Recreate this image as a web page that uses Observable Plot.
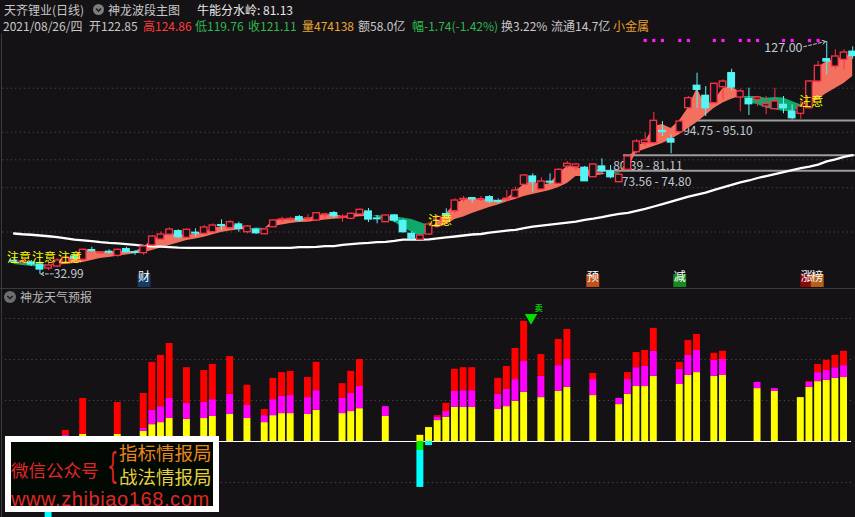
<!DOCTYPE html>
<html><head><meta charset="utf-8">
<script src="https://cdn.jsdelivr.net/npm/d3@7"></script>
<script src="https://cdn.jsdelivr.net/npm/@observablehq/plot@0.6"></script>
<style>
html,body{margin:0;padding:0;}
body{background:#141214;width:855px;height:517px;overflow:hidden;position:relative;font-family:"Noto Sans CJK SC","Noto Sans",sans-serif;}
.t{position:absolute;font-size:12px;line-height:16px;white-space:nowrap;}
#topChart{position:absolute;left:0;top:34px;}
#botChart{position:absolute;left:0;top:289px;}
.sep{position:absolute;background:#3a3a3e;}
.icon{position:absolute;}
#wm{position:absolute;left:5px;top:436px;width:202px;height:64px;border:6px solid #fff;background:#020802;}
#wm div{position:absolute;white-space:nowrap;}
</style></head><body>
<div class="sep" style="left:0;top:288px;width:855px;height:1px;"></div>
<div class="sep" style="left:1px;top:34px;width:1px;height:483px;"></div>

<div class="t" style="left:4px;top:2px;color:#c8c8c8">天齐锂业(日线)</div>
<svg class="icon" style="left:93px;top:4px" width="11" height="11"><circle cx="5.5" cy="5.5" r="5.5" fill="#7d7d7d"/><path d="M3 4.5 L5.5 7 L8 4.5" stroke="#202020" stroke-width="1.6" fill="none"/></svg>
<div class="t" style="left:108px;top:2px;color:#c8c8c8">神龙波段主图</div>
<div class="t" style="left:197px;top:2px;color:#e8e8e8">牛能分水岭: 81.13</div>

<div class="t" style="left:3px;top:18px;color:#c8c8c8">2021/08/26/四</div>
<div class="t" style="left:89px;top:18px;color:#c8c8c8">开122.85</div>
<div class="t" style="left:143px;top:18px;color:#ff3a3a">高124.86</div>
<div class="t" style="left:195px;top:18px;color:#2fb84f">低119.76</div>
<div class="t" style="left:248px;top:18px;color:#2fb84f">收121.11</div>
<div class="t" style="left:302px;top:18px;color:#e8a838">量474138</div>
<div class="t" style="left:358px;top:18px;color:#c8c8c8">额58.0亿</div>
<div class="t" style="left:412px;top:18px;color:#2fb84f">幅-1.74(-1.42%)</div>
<div class="t" style="left:501px;top:18px;color:#c8c8c8">换3.22%</div>
<div class="t" style="left:551px;top:18px;color:#c8c8c8">流通14.7亿</div>
<div class="t" style="left:613px;top:18px;color:#e8a030">小金属</div>

<div id="topChart"></div>
<div id="botChart"></div>

<svg class="icon" style="left:4px;top:291px" width="12" height="12"><circle cx="6" cy="6" r="6" fill="#6e6e6e"/><path d="M3.3 5 L6 7.6 L8.7 5" stroke="#202020" stroke-width="1.6" fill="none"/></svg>
<div class="t" style="left:20px;top:289px;color:#b8b8b8">神龙天气预报</div>

<div id="wm">
  <div style="left:0px;top:18px;font-size:17.5px;line-height:19px;color:#e02626;">微信公众号</div>
  <div style="left:96px;top:4px;font-size:24px;line-height:28px;color:#e02626;font-family:'DejaVu Sans';transform:scale(0.75,1.45);transform-origin:left top;">{</div>
  <div style="left:108px;top:0px;font-size:18.5px;line-height:20px;color:#e8861e;">指标情报局</div>
  <div style="left:108px;top:25px;font-size:18.5px;line-height:19px;color:#e6d040;">战法情报局</div>
  <div style="left:0px;top:48px;font-size:20px;line-height:19px;color:#e02626;font-family:'Liberation Sans';letter-spacing:0.6px;">www.zhibiao168.com</div>
</div>

<script>
// ---------- price panel data ----------
const open = [38.41,37.80,37.80,37.0,35.38,36.19,37.80,40.22,38.89,42.76, 41.59,42.12,40.50,43.16,41.95,41.55,44.66,47.08,49.02,50.43, 47.76,49.78,49.38,50.03,52.86,51.64,53.14,50.03,51.0,49.22, 52.04,54.95,55.15,56.08,55.35,54.75,56.97,57.70,55.96,55.43, 57.17,58.38,55.56,54.06,56.77,54.47,49.38,46.96,49.10,54.75, 57.29,58.50,63.22,63.74,63.10,64.15,62.54,63.34,63.90,69.15, 72.50,67.26,70.37,69.56,76.54,76.26,76.02,72.22,76.54,74.52, 70.20,75.21,82.31,85.94,85.94,90.86,87.55,90.38,100.06,109.11, 105.07,102.08,108.54,114.19,104.38,103.70,103.45,100.75,99.66,101.43, 98.73,97.80,100.06,110.84,119.84,116.89,119.60,122.85];
const close = [38.21,38.21,37.0,34.98,36.59,38.61,39.82,39.42,42.92,42.52, 41.83,41.83,42.92,41.95,41.71,44.26,48.29,49.10,51.12,48.01, 51.0,49.50,51.93,52.73,52.61,54.06,51.40,52.33,49.62,51.12, 54.75,55.15,55.35,54.75,55.56,57.70,57.17,56.49,56.16,57.45, 59.06,55.15,55.27,56.77,54.75,50.03,47.36,48.69,53.14,56.16, 57.05,62.82,63.42,63.34,63.34,62.41,62.29,63.54,66.86,72.91, 70.20,70.49,70.08,75.21,77.63,77.35,70.61,77.35,74.64,72.22, 73.19,80.58,86.63,87.03,94.98,90.46,86.22,94.70,104.10,107.49, 100.06,109.91,110.84,108.42,106.81,101.68,104.38,101.68,102.77,100.06, 96.03,100.75,110.84,117.18,118.91,120.93,122.54,121.11];
const high = [39.42,39.02,38.61,37.80,37.40,39.42,40.63,41.03,43.24,43.97, 42.24,42.92,43.24,43.97,42.64,44.66,48.69,50.03,51.80,51.0, 51.32,51.40,52.73,53.34,55.03,54.75,54.06,52.73,51.52,51.40, 54.95,56.08,56.08,56.77,57.05,57.98,57.70,58.38,57.05,57.78, 59.39,59.59,56.77,56.97,57.17,55.15,50.30,48.89,53.94,56.77, 59.47,63.50,64.43,63.82,64.43,64.84,63.50,66.86,68.19,73.31, 73.59,71.98,73.59,75.61,78.56,77.88,76.54,77.75,79.65,76.94, 73.51,80.98,87.44,89.98,98.33,94.70,89.33,95.38,104.78,114.19, 108.82,110.23,111.53,115.80,107.73,108.14,104.78,104.78,108.14,104.78, 101.43,102.77,111.25,118.91,127.00,123.63,123.63,124.86];
const low = [37.40,37.0,36.19,32.99,34.57,35.79,37.40,38.61,38.41,41.95, 41.23,41.03,39.94,41.71,40.71,40.71,44.26,46.68,48.44,47.36, 47.48,48.01,48.97,49.90,50.71,51.32,50.03,49.38,49.10,48.97, 51.93,54.06,54.35,53.94,54.06,54.55,55.43,55.56,54.06,55.15, 56.97,53.94,53.42,53.94,53.94,49.70,46.96,46.80,48.69,54.35, 55.43,57.70,62.13,61.73,62.41,61.48,61.48,62.41,63.50,68.87, 66.18,67.06,69.15,69.28,75.61,74.93,70.49,72.10,73.83,71.58, 70.08,74.93,81.67,84.61,85.70,88.64,81.67,89.98,99.82,100.06, 96.71,101.84,103.45,107.09,98.62,97.12,100.75,97.40,99.42,97.80, 95.38,95.62,99.74,110.16,113.55,115.56,115.56,119.76];
// wave band: fast and slow line
const bandFast = [37.0,36.59,36.19,35.99,36.19,37.80,39.02,40.63,42.64,42.44, 42.04,42.04,42.04,42.24,42.24,43.97,46.96,48.29,49.38,49.10, 48.69,49.30,50.03,51.40,52.33,52.73,52.53,51.72,50.51,51.40, 54.75,55.15,55.27,55.56,55.43,56.77,57.05,57.37,56.36,56.77, 57.98,57.45,56.08,55.15,54.06,51.93,50.03,48.29,49.90,54.35, 57.57,61.20,63.22,63.42,63.22,63.22,62.82,63.42,66.45,69.28, 70.49,68.87,69.68,73.71,76.54,76.34,74.93,74.12,73.92,73.11, 73.51,78.96,84.60,86.22,92.70,93.50,91.90,95.10,100.30,108.00, 101.20,103.20,108.00,108.80,106.40,102.08,101.56,100.06,99.54,98.73, 98.73,100.06,104.78,116.49,118.91,119.60,120.93,121.62];
const bandSlow = [37.80,37.60,37.40,37.0,36.59,36.79,37.0,37.40,37.80,38.61, 39.42,39.82,40.34,40.83,41.31,41.71,42.64,43.65,44.66,45.67, 46.68,47.28,48.01,48.97,49.90,50.51,50.91,51.12,51.72,51.50, 52.33,52.93,53.54,53.94,54.06,54.55,54.95,55.23,55.43,55.84, 56.24,56.49,56.77,56.49,56.16,55.76,55.15,53.94,52.73,51.72, 53.01,55.15,56.16,57.57,58.78,59.99,61.0,62.21,63.22,64.43, 65.24,66.05,66.86,68.07,69.68,72.50,72.50,72.71,73.11,74.12, 74.0,75.73,82.19,83.40,84.60,85.80,87.40,89.45,91.88,94.30, 97.10,100.0,102.20,103.70,104.78,104.78,104.78,104.10,104.38,104.18, 102.77,101.44,101.56,103.58,105.99,108.02,110.03,112.86];
// white line (牛能分水岭)
const ma = [49.5,49.2,49.0,48.7,48.4,48.0,47.5,47.0,46.7,46.4, 46.0,45.7,45.5,45.2,44.9,44.5,44.3,44.2,44.0,43.8, 43.7,43.7,43.7,43.7,43.7,43.7,43.7,43.7,43.7,43.7, 43.7,43.7,43.7,44.0,44.0,44.1,44.4,44.4,44.9,45.2, 45.5,45.7,46.0,46.1,46.5,47.0,47.0,47.0,47.1,47.5, 47.9,48.3,48.7,49.1,49.3,49.9,50.3,50.7,51.0,51.7, 52.3,52.7,53.1,53.5,53.9,54.3,55.0,55.5,56.1,56.8, 57.4,57.8,58.6,59.4,60.4,61.4,62.4,63.4,64.4,65.2, 66.0,67.1,68.1,69.1,70.1,70.9,71.9,72.7,73.5,74.3, 75.1,75.9,76.5,77.3,78.6,79.4,80.4,81.13];
const priceGrid = [108.14, 90.38, 79.24, 67.95, 50.11];
// support levels
const levelPrice = [95.10, 81.11, 74.80];
const levelStart = [78, 70.5, 63.5];
const levelText = ["94.75 - 95.10", "80.39 - 81.11", "73.56 - 74.80"];
const levelTextX = [77.4, 69.3, 70.3];
const levelTextY = [90.66, 76.54, 70.08];
// 注意 labels
const attnX = [0.58, 3.47, 6.48, 49.3, 92.2];
const attnY = [39.5, 39.5, 39.5, 54.4, 102.4];
// top magenta dots
const dotIdx = [73, 74, 75, 77, 78, 81, 82, 84, 85, 86, 89, 90, 92, 93];
// badges
const badgeText = ["财", "预", "减", "涨", "榜"];
const badgeX = [15.04, 66.94, 77.0, 91.7, 92.9];
const badgeBg = ["#163a66", "#c2521a", "#158a1e", "#8a0a0a", "#b5601a"];
// extreme labels
const peakText = "127.00", peakIdx = 94, peakLabelX = 91.2, peakLabelY = 124.4;
const troughText = "32.99", troughIdx = 3, troughLabelX = 4.6, troughLabelY = 33.2;

// ---------- indicator panel data ----------
const barIdx = [6,8,12,15,16,17,18,20,22,23,25,27,29,30,31,32,34,35,38,39,40,43,47,48,49,50,51,52,53,56,57,58,59,61,63,64,67,70,71,72,73,74,77,78,79,81,82,86,88,91,92,93,94,95,96];
const barYellow = [1.0,1.7,1.7,2.5,4.1,4.6,5.6,5.4,5.6,6.1,6.6,5.6,4.6,6.3,6.8,6.8,6.6,7.6,6.8,7.3,8.0,6.1,1.5,3.4,5.1,5.9,8.3,8.3,8.3,7.8,8.5,9.8,12.0,10.7,12.2,13.2,11.2,9.0,11.5,13.4,13.4,15.9,13.9,16.1,16.8,15.9,16.1,12.9,12.2,10.7,13.2,14.6,14.9,15.4,15.6];
const barMagenta = [1.5,1.7,1.7,3.2,7.6,8.5,10.5,9.3,9.5,10.2,11.5,8.8,6.3,10.2,11.0,11.2,10.7,12.4,10.5,11.7,13.4,8.5,1.5,3.4,5.9,7.3,12.2,12.4,12.4,11.5,12.7,15.1,19.5,15.9,18.5,20.0,15.1,10.5,15.1,18.0,18.3,22.0,17.6,21.0,22.2,19.8,20.0,14.4,12.9,10.7,14.4,16.8,17.3,18.0,18.5];
const barRed = [2.7,10.5,9.5,11.7,19.3,21.0,23.9,18.0,17.3,18.8,20.7,13.7,7.8,15.4,16.8,17.1,15.6,19.3,14.1,17.1,20.0,8.5,1.5,3.4,6.3,9.3,17.6,18.0,18.0,15.4,18.3,22.7,29.3,21.2,24.9,27.3,16.6,10.5,16.8,21.7,22.2,27.6,19.3,24.6,26.1,21.5,22.0,14.4,12.9,10.7,14.6,18.8,19.8,21.0,22.0];
const negIdx = [4, 47, 48];
const negGreen = [0, -2.2, 0];
const negCyan = [-19, -11.2, -1.0];
const indGrid = [30, 20, 10, -10];
const sellIdx = 59.8, sellLevel = 30.2, sellText = "卖";

// ---------- styles ----------
const BG = "#141214", RED = "#ff3048", CYAN = "#55f5f5", SALMON = "#f3705e", GREEN = "#0ea86c";
const FONT = "Noto Sans CJK SC, Noto Sans, sans-serif";
const xScale = {domain: [-0.5, 97.5], range: [9.18, 856.5], axis: null};

// build tables
const N = open.length;
const candles = d3.range(N).map(i => {
  const up = close[i] >= open[i];
  let lo = Math.min(open[i], close[i]), hi = Math.max(open[i], close[i]);
  if (hi - lo < 0.3) { const m = (hi + lo) / 2; lo = m - 0.15; hi = m + 0.15; }
  return {i, h: high[i], l: low[i], lo, hi, up};
});
const bandRows = [];
let seg = 0;
for (let i = 0; i < N; i++) {
  const d = bandFast[i] - bandSlow[i];
  if (i > 0) {
    const d0 = bandFast[i-1] - bandSlow[i-1];
    if ((d0 >= 0) !== (d >= 0)) {
      const t = d0 / (d0 - d);
      const xc = i - 1 + t, yc = bandFast[i-1] + t * (bandFast[i] - bandFast[i-1]);
      bandRows.push({i: xc, a: yc, b: yc, seg, col: d0 >= 0 ? SALMON : GREEN});
      seg++;
      bandRows.push({i: xc, a: yc, b: yc, seg, col: d >= 0 ? SALMON : GREEN});
    }
  }
  bandRows.push({i, a: bandFast[i], b: bandSlow[i], seg, col: d >= 0 ? SALMON : GREEN});
}
const levels = levelPrice.map((p, k) => ({p, s: levelStart[k], t: levelText[k], tx: levelTextX[k], ty: levelTextY[k]}));
const attn = attnX.map((x, k) => ({x, y: attnY[k]}));
const badges = badgeText.map((t, k) => ({t, x: badgeX[k], bg: badgeBg[k]}));
const maRows = ma.map((v, i) => ({i, v}));

const topPlot = Plot.plot({
  width: 855, height: 254, marginTop: 0, marginBottom: 0, marginLeft: 2, marginRight: 0,
  x: xScale,
  y: {domain: [27.31, 129.81], range: [254, 0], axis: null},
  color: {type: "identity"},
  style: {background: "transparent", fontFamily: FONT, overflow: "hidden"},
  marks: [
    Plot.ruleY(priceGrid, {stroke: "#4c4c50", strokeDasharray: "1.2,3.2"}),
    Plot.ruleY(levels, {y: "p", x1: "s", x2: 97.6, stroke: "#9c9c9c", strokeWidth: 2}),
    Plot.text(levels, {x: "tx", y: "ty", text: "t", textAnchor: "start", fill: "#c2c8d2", fontSize: 12}),
    Plot.areaY(bandRows, {x: "i", y1: "b", y2: "a", z: "seg", fill: "col", curve: "linear"}),
    Plot.line(maRows, {x: "i", y: "v", stroke: "#ffffff", strokeWidth: 2.3, curve: "linear"}),
    Plot.ruleX(candles, {x: "i", y1: "l", y2: "h", stroke: d => d.up ? RED : CYAN, strokeWidth: 1}),
    Plot.rect(candles, {x1: d => d.i - 0.38, x2: d => d.i + 0.38, y1: "lo", y2: "hi", fill: d => d.up ? BG : CYAN, stroke: d => d.up ? RED : CYAN, strokeWidth: 1.3}),
    Plot.dot(dotIdx, {x: d => d, frameAnchor: "top", dy: 6, symbol: "square", r: 1.8, fill: "#ff1aff"}),
    Plot.text(attn, {x: "x", y: "y", text: () => "注意", fill: "#ffff00", fontSize: 12}),
    Plot.text([peakText], {x: peakLabelX, y: peakLabelY, text: d => d, textAnchor: "end", fill: "#c2c8d2", fontSize: 12.5}),
    Plot.arrow([0], {x1: peakLabelX + 0.15, y1: peakLabelY + 0.5, x2: peakIdx - 0.1, y2: high[peakIdx], stroke: "#c2c8d2", strokeWidth: 1, strokeDasharray: "3,2", headLength: 6}),
    Plot.text([troughText], {x: troughLabelX, y: troughLabelY, text: d => d, textAnchor: "start", fill: "#c2c8d2", fontSize: 12}),
    Plot.arrow([0], {x1: troughLabelX - 0.05, y1: troughLabelY, x2: troughIdx + 0.1, y2: troughLabelY, stroke: "#c2c8d2", strokeWidth: 1, strokeDasharray: "3,2", headLength: 5}),
    Plot.dot(badges, {x: "x", frameAnchor: "bottom", dy: -8, symbol: "square", r: 7.3, fill: "bg"}),
    Plot.text(badges, {x: "x", frameAnchor: "bottom", dy: -8, text: "t", fill: "#ffffff", fontSize: 12})
  ]
});
document.getElementById("topChart").appendChild(topPlot);

const bars = barIdx.map((i, k) => ({i, y: barYellow[k], m: barMagenta[k], r: barRed[k]}));
const negs = negIdx.map((i, k) => ({i, g: negGreen[k], c: negCyan[k]}));
const W = 0.4;
const botPlot = Plot.plot({
  width: 855, height: 228, marginTop: 0, marginBottom: 0, marginLeft: 5, marginRight: 4,
  x: xScale,
  y: {domain: [-18.54, 37.07], range: [228, 0], axis: null},
  color: {type: "identity"},
  style: {background: "transparent", fontFamily: FONT, overflow: "hidden"},
  marks: [
    Plot.ruleY(indGrid, {stroke: "#4c4c50", strokeDasharray: "1.2,3.2"}),
    Plot.ruleY([0], {stroke: "#ffffff", strokeWidth: 1.2}),
    Plot.rect(bars, {x1: d => d.i - W, x2: d => d.i + W, y1: 0, y2: "y", fill: "#ffff00"}),
    Plot.rect(bars.filter(d => d.m > d.y), {x1: d => d.i - W, x2: d => d.i + W, y1: "y", y2: "m", fill: "#ff00ff"}),
    Plot.rect(bars.filter(d => d.r > d.m), {x1: d => d.i - W, x2: d => d.i + W, y1: "m", y2: "r", fill: "#ff0000"}),
    Plot.rect(negs, {x1: d => d.i - W, x2: d => d.i + W, y1: "g", y2: "c", fill: "#00ffff"}),
    Plot.rect(negs.filter(d => d.g < 0), {x1: d => d.i - W, x2: d => d.i + W, y1: 0, y2: "g", fill: "#00ee00"}),
    Plot.dot([sellIdx], {x: d => d, y: sellLevel, symbol: "triangle", rotate: 180, r: 4.6, fill: "#00e000"}),
    Plot.text([sellText], {x: sellIdx + 0.9, y: sellLevel + 2.2, text: d => d, fill: "#00d000", fontSize: 8, fontWeight: "bold"})
  ]
});
document.getElementById("botChart").appendChild(botPlot);
</script>
</body></html>
